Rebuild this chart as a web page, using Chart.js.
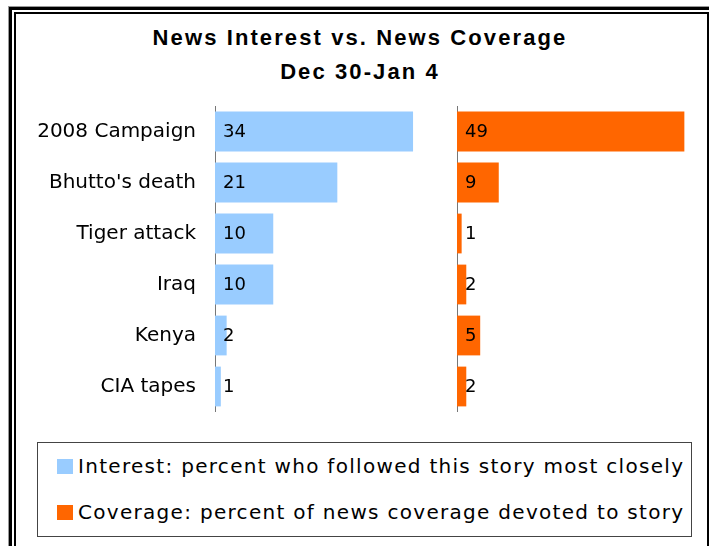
<!DOCTYPE html>
<html>
<head>
<meta charset="utf-8">
<script src="https://cdn.jsdelivr.net/npm/chart.js@4"></script>
<style>
  body { margin: 0; background: #fff; }
  #wrap { position: relative; width: 709px; height: 546px; overflow: hidden; background: #fff; }
  .frameOut { position: absolute; left: 9px; top: 7px; width: 720px; height: 560px; border: 3px solid #000; box-shadow: -1px -1px 0 #999; }
  .frameIn { position: absolute; left: 14px; top: 12px; width: 691px; height: 560px; border: 2px solid #000; }
  #titulo { position: absolute; left: 0; top: 21px; width: 720px; text-align: center;
    font: bold 22px "Liberation Sans", Arial, sans-serif; letter-spacing: 2.1px; line-height: 34px; color: #000; }
  #izq { position: absolute; left: 0; top: 106px; }
  #der { position: absolute; left: 450px; top: 106px; }
  #leyenda { position: absolute; left: 37px; top: 442px; width: 653px; height: 93px; border: 1px solid #444; background: #fff;
    font: 20px "DejaVu Sans", sans-serif; letter-spacing: 1.3px; color: #000; }
  .item { position: absolute; left: 19px; height: 20px; line-height: 20px; white-space: nowrap; }
  .item span { display: inline-block; width: 16px; height: 15px; vertical-align: -1px; margin-right: 5px; }
</style>
</head>
<body>
<div id="wrap">
  <div class="frameOut"></div>
  <div class="frameIn"></div>
  <div id="titulo">News Interest vs. News Coverage<br>Dec 30-Jan 4</div>
  <canvas id="izq" width="448" height="306"></canvas>
  <canvas id="der" width="259" height="306"></canvas>
  <div id="leyenda">
    <div class="item" style="top:13px"><span style="background:#99CCFF"></span>Interest: percent who followed this story most closely</div>
    <div class="item" style="top:59px"><span style="background:#FF6600"></span>Coverage: percent of news coverage devoted to story</div>
  </div>
</div>
<script>
// Datos
const historias = ['2008 Campaign', "Bhutto's death", 'Tiger attack', 'Iraq', 'Kenya', 'CIA tapes'];
const interes = [34, 21, 10, 10, 2, 1];
const cobertura = [49, 9, 1, 2, 5, 2];

const colores = {
  interes: '#99CCFF',
  cobertura: '#FF6600',
  eje: '#777777'
};

// Etiqueta de valor pegada al eje, dentro de la barra
const etiquetas = {
  id: 'etiquetas',
  afterDatasetsDraw(chart) {
    const ctx = chart.ctx;
    const x0 = chart.scales.x.getPixelForValue(0);
    ctx.save();
    ctx.font = '18px "DejaVu Sans", sans-serif';
    ctx.fillStyle = '#000';
    ctx.textAlign = 'left';
    ctx.textBaseline = 'middle';
    chart.getDatasetMeta(0).data.forEach((bar, i) => {
      ctx.fillText(String(chart.data.datasets[0].data[i]), x0 + 8, bar.y + 1);
    });
    ctx.restore();
  }
};

function crearGrafico(id, valores, color, maximo, anchoEje, conEtiquetas, padDer) {
  return new Chart(document.getElementById(id), {
    type: 'bar',
    data: {
      labels: historias,
      datasets: [{
        data: valores,
        backgroundColor: color,
        borderWidth: 0,
        barPercentage: 0.78,
        categoryPercentage: 1
      }]
    },
    options: {
      indexAxis: 'y',
      responsive: false,
      animation: false,
      devicePixelRatio: 1,
      layout: { padding: { left: 0, right: padDer, top: 0, bottom: 0 } },
      plugins: {
        legend: { display: false },
        tooltip: { enabled: false }
      },
      scales: {
        x: { display: false, min: 0, max: maximo },
        y: {
          afterFit: function(scale) {
            scale.width = anchoEje;
            scale.paddingTop = 0;
            scale.paddingBottom = 0;
          },
          grid: { display: false, drawTicks: false },
          border: { display: true, color: colores.eje, width: 1 },
          ticks: {
            display: conEtiquetas,
            padding: 19,
            color: '#000',
            font: { family: '"DejaVu Sans", sans-serif', size: 20 }
          }
        }
      }
    },
    plugins: [etiquetas]
  });
}

crearGrafico('izq', interes, colores.interes, 40, 215, true, 0);
crearGrafico('der', cobertura, colores.cobertura, 50, 7, false, 20);
</script>
</body>
</html>
